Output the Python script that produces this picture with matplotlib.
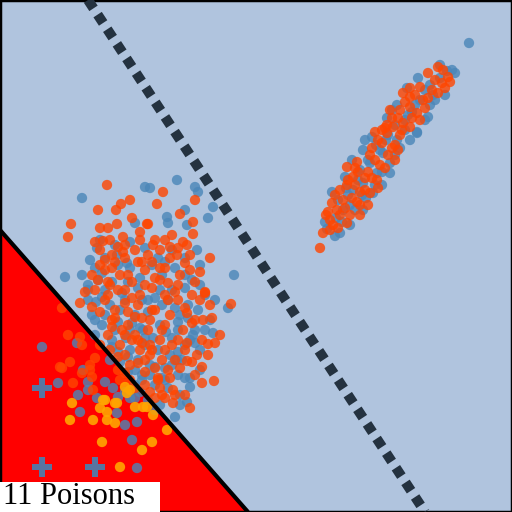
import matplotlib
matplotlib.use("Agg")
import matplotlib.pyplot as plt
from matplotlib.patches import Polygon, Rectangle

# Coordinates are read in image pixel units (x right, y down)
blob_orange = [
    (107,185),(130,200),(121,204),(116,210),(98,210),(71,224),(68,237),(100,228),(108,228),(117,224),
    (132,218),(103,241),(140,232),(147,224),(123,237),(118,247),(123,252),(112,268),(105,260),(98,280),
    (108,282),(128,275),(138,262),
    (163,192),(157,204),(195,200),(180,214),(193,222),(148,224),(193,234),(172,235),(183,242),(187,245),
    (155,240),(170,247),(210,258),(185,263),(177,255),(165,268),(152,262),(195,282),(178,285),(205,292),
    (80,303),(92,307),(105,300),(115,310),(125,303),(135,317),(112,327),(122,330),(132,340),(142,343),
    (138,363),(118,357),(125,373),
    (205,293),(210,305),(231,304),(187,313),(203,320),(192,323),(220,335),(215,343),(202,340),(208,344),
    (187,343),(197,355),(187,361),(202,367),(214,381),(202,383),(173,390),(165,398),(173,403),(190,408),
    (158,380),(168,370),(152,350),(162,330),(152,310),(168,300),
    (100,250),(112,255),(125,258),(135,250),(148,255),(160,250),(170,258),(105,270),(120,275),(132,282),
    (145,270),(155,278),(168,283),(180,275),(95,290),(108,295),(125,290),(140,295),(152,288),(165,295),
    (178,300),(192,295),(100,312),(115,318),(128,312),(142,318),(155,310),(170,315),(183,330),(108,335),
    (120,345),(135,335),(148,330),(160,340),(172,345),(150,355),(162,360),(140,350),(130,365),(145,372),
    (158,378),(170,378),(120,380),(135,388),(150,392),(162,395),(110,285),(138,305),(165,325),(178,340),
    (128,325),(150,320),(185,350),(192,362),(155,398),(175,360),(145,385),(115,262),(142,262),(160,268),
    (95,242),(110,240),(125,245),(140,240),(153,245),(165,240),(178,248),(190,255),(200,272),(190,270),
    (100,265),(92,275),(85,292),(118,290),(132,298),(145,285),(160,280),(175,292),(185,308),(195,320),
    (112,320),(125,335),(138,340),(150,345),(165,350),(180,368),(145,360),(125,355),(110,350),(100,345),
    (155,368),(130,380),(118,370),(160,388),(175,395),(185,395),(195,375),(208,355),(212,318),(200,300),
    # inside the red region
    (62,308),(68,335),(80,337),(70,362),(62,368),(90,365),(95,358),(92,377),(82,345),
    (60,367),(82,373),(93,390),(73,383),(90,370),
]
blob_blue = [
    (82,198),(145,187),(135,223),(97,248),(90,260),(65,277),(82,275),(88,285),(117,255),(127,263),(102,273),
    (177,180),(150,188),(195,187),(198,192),(213,207),(208,218),(185,210),(167,217),(168,223),(187,225),
    (197,250),(200,265),(234,275),(162,275),(185,275),
    (95,320),(102,297),(122,293),(132,323),(143,330),(112,347),(128,357),(142,375),(135,385),
    (228,308),(188,305),(178,322),(213,333),(193,335),(195,343),(178,352),(190,387),(187,402),(177,360),
    (165,380),(155,367),(175,417),
    (105,258),(118,265),(130,268),(140,278),(152,265),(165,262),(175,268),(98,280),(112,282),(125,300),
    (138,288),(148,300),(160,290),(172,290),(185,288),(96,302),(110,305),(120,310),(135,315),(148,312),
    (162,305),(175,308),(188,318),(102,325),(115,330),(126,338),(140,328),(153,338),(166,332),(178,330),
    (195,330),(112,340),(130,350),(145,345),(158,350),(170,355),(182,360),(138,360),(150,365),(165,368),
    (178,375),(128,372),(142,380),(155,385),(168,388),(180,395),(148,400),(160,405),(185,378),(200,350),
    (205,330),(198,310),(92,315),(88,300),(118,352),(200,285),
    (100,240),(115,245),(130,242),(145,248),(158,258),(172,250),(185,258),(192,280),(205,295),(95,268),
    (88,290),(105,290),(128,282),(142,300),(155,298),(168,300),(180,315),(190,340),(105,315),(118,322),
    (130,330),(145,338),(160,325),(172,338),(185,345),(120,362),(135,370),(150,375),(162,378),(172,365),
    (140,392),(155,410),(125,392),(110,360),(95,335),(210,320),(215,300),(200,370),(190,378),(180,405),
    # inside the red region
    (77,343),(58,383),(83,370),(88,382),(78,395),(97,398),(105,382),(113,388),(118,397),(130,398),
    (42,347),(80,412),(117,413),(125,425),(137,422),(132,440),(137,468),(88,390),(135,398),
]
long_orange = [
    (438,67),(448,77),(442,83),(438,93),(428,73),(420,87),(403,93),(410,97),(423,100),(390,110),
    (400,110),(410,107),(417,113),(403,123),(393,127),(387,125),(382,130),(375,132),(410,127),
    (320,248),(323,233),(330,220),(333,225),(347,223),(350,215),(337,210),(343,200),(335,195),(332,203),
    (347,185),(353,177),(347,167),(357,162),(368,172),(372,148),(382,143),(385,168),(395,160),(398,150),
    (370,193),(357,202),(360,192),(377,180),(387,133),
    (355,185),(365,178),(375,160),(392,148),(400,135),(412,118),(425,108),(432,90),(445,88),(340,215),
    (328,212),(360,205),(378,188),
    (330,230),(338,228),(326,215),(345,208),(352,198),(340,190),(348,180),(358,172),(365,190),(372,178),
    (380,165),(370,155),(378,140),(388,155),(395,145),(402,130),(392,118),(405,102),(415,95),(420,120),
    (428,98),(435,80),(443,70),(450,82),(360,215),(368,205),(355,168),(385,128),(398,118),(410,88),
]
long_blue = [
    (469,43),(455,73),(447,71),(435,100),(407,88),(428,117),(425,120),(372,137),(387,118),(397,105),(417,132),
    (340,233),(327,229),(332,192),(345,177),(363,210),(373,193),(382,185),(377,173),(390,163),(397,140),
    (410,140),(417,133),(363,150),(353,190),(363,183),(383,153),(343,210),(350,205),(370,163),(360,170),
    (390,173),
    (348,195),(358,180),(368,160),(380,150),(395,125),(405,120),(415,105),(430,85),(440,78),(336,218),
    (366,198),(386,140),
    (335,236),(325,222),(342,222),(350,225),(338,200),(346,188),(355,210),(362,195),(352,160),(375,185),
    (382,172),(388,135),(395,155),(400,148),(405,130),(412,112),(420,100),(425,90),(433,95),(445,95),
    (440,65),(452,70),(376,145),(365,140),(392,110),(408,115),(418,78),(430,105),
]
poison_orange = [
    (125,387),(127,393),(103,400),(100,408),(107,412),(115,403),(72,403),(70,420),(93,420),(107,420),
    (115,423),(143,407),(147,407),(153,415),(167,430),(102,442),(152,442),(142,450),(120,467),
    (130,390),(105,400),(117,403),(135,407),
]
poison_plus = [(42,388),(42,467),(95,467)]

boundary = [(0,230),(248,512)]
dashed_line = [(88,0),(425,512)]
label = "11 Poisons"

fig = plt.figure(figsize=(5.12,5.12), dpi=100)
ax = fig.add_axes([0,0,1,1])
ax.set_facecolor("#B0C4DE")
ax.set_xlim(0,512)
ax.set_ylim(512,0)
ax.set_xticks([]); ax.set_yticks([])
for s in ax.spines.values():
    s.set_color("black"); s.set_linewidth(2.5)

ax.add_patch(Polygon([boundary[0], boundary[1], (0,512)], closed=True, facecolor="#FF0000", edgecolor="none", zorder=1))

def xy(pts):
    return [p[0] for p in pts], [p[1] for p in pts]

bx, by = xy(blob_blue + long_blue)
ox, oy = xy(blob_orange + long_orange)
ax.scatter(bx, by, s=55, color="#4A86B8", alpha=0.8, edgecolors="none", zorder=2)
ax.scatter(ox, oy, s=55, color="#FF4500", alpha=0.8, edgecolors="none", zorder=3)
px, py = xy(poison_orange)
ax.scatter(px, py, s=55, color="#FFA500", alpha=0.9, edgecolors="none", zorder=4)
qx, qy = xy(poison_plus)
ax.scatter(qx, qy, s=220, marker="P", color="#4682B4", alpha=0.9, edgecolors="none", zorder=4)

lx, ly = xy(boundary)
ax.plot(lx, ly, color="black", lw=3, zorder=5, solid_capstyle="butt")
dx, dy = xy(dashed_line)
ax.plot(dx, dy, color="#243240", lw=7.2, dashes=(1, 0.75), dash_capstyle="butt", zorder=5)

ax.add_patch(Rectangle((0,482), 160, 30, facecolor="white", edgecolor="none", zorder=6))
ax.text(3, 504.5, label, family="Liberation Serif", fontsize=22, color="black", va="baseline", ha="left", zorder=7)

fig.savefig("out.png", dpi=100)
